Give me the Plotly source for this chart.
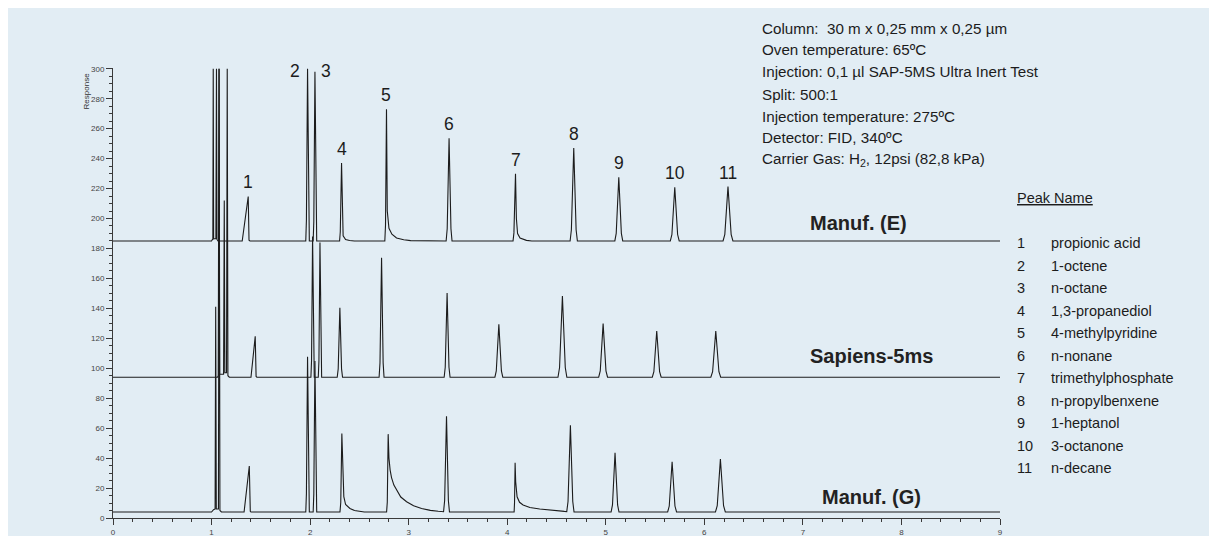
import plotly.graph_objects as go

# chromatogram polylines (x = time, y = response)
E_TIME = [0, 1.000, 1.008, 1.013, 1.017, 1.021, 1.044, 1.050, 1.055, 1.065,
          1.311, 1.372, 1.380, 1.390,
          1.956, 1.9625, 1.974, 1.9855, 1.992,
          2.031, 2.0375, 2.049, 2.0605, 2.067,
          2.299, 2.306, 2.319, 2.327, 2.335, 2.36, 2.40, 2.45,
          2.758, 2.765, 2.775, 2.783, 2.792, 2.80, 2.83, 2.877, 2.95, 3.02,
          3.38, 3.391, 3.41, 3.429, 3.44,
          4.059, 4.068, 4.084, 4.093, 4.105, 4.13, 4.195, 4.25,
          4.638, 4.651, 4.675, 4.699, 4.712,
          5.092, 5.106, 5.132, 5.158, 5.172,
          5.655, 5.671, 5.70, 5.729, 5.745,
          6.19, 6.208, 6.24, 6.272, 6.29,
          9]
E_RESP = [185, 185, 186, 186, 300, 186.5, 186.5, 300, 186, 185,
          185, 214.7, 185.5, 185,
          185, 199, 300, 199, 185,
          185, 198, 298, 198, 185,
          185, 191, 237, 195, 188.5, 186, 185.3, 185,
          185, 195.5, 273, 205, 197, 193.5, 189.5, 187, 185.8, 185.2,
          185, 193.2, 253.6, 193.2, 185,
          185, 190.4, 229.8, 200, 190, 187, 185.4, 185,
          185, 192.5, 247.1, 192.5, 185,
          185, 190.1, 227.6, 190.1, 185,
          185, 189.3, 220.9, 189.3, 185,
          185, 189.4, 221.3, 189.4, 185,
          185]

S_TIME = [0, 1.060, 1.068, 1.075, 1.082, 1.122, 1.129, 1.135, 1.152, 1.159, 1.166, 1.18,
          1.40, 1.443, 1.452, 1.46,
          2.008, 2.0145, 2.025, 2.0355, 2.042,
          2.083, 2.0895, 2.10, 2.1105, 2.117,
          2.275, 2.285, 2.302, 2.319, 2.329,
          2.70, 2.709, 2.725, 2.741, 2.75,
          3.36, 3.371, 3.39, 3.409, 3.42,
          3.875, 3.889, 3.915, 3.941, 3.955,
          4.515, 4.531, 4.56, 4.589, 4.605,
          4.928, 4.944, 4.973, 5.002, 5.018,
          5.472, 5.488, 5.517, 5.546, 5.562,
          6.066, 6.084, 6.116, 6.148, 6.166,
          9]
S_RESP = [94, 94, 95, 300, 96, 96, 212, 97, 97, 300, 95, 94,
          94, 121.3, 94.5, 94,
          94, 105, 188, 105, 94,
          94, 105, 184, 105, 94,
          94, 99.6, 140.4, 99.6, 94,
          94, 103.6, 173.8, 103.6, 94,
          94, 100.7, 150.2, 100.7, 94,
          94, 98.2, 129.3, 98.2, 94,
          94, 100.5, 148.2, 100.5, 94,
          94, 98.3, 129.8, 98.3, 94,
          94, 97.7, 124.9, 97.7, 94,
          94, 97.7, 124.9, 97.7, 94,
          94]

G_TIME = [0, 1.00, 1.02, 1.036, 1.042, 1.048, 1.070, 1.077, 1.085, 1.10,
          1.33, 1.383, 1.393, 1.40,
          1.956, 1.9625, 1.974, 1.9855, 1.992,
          2.031, 2.0375, 2.049, 2.0605, 2.067,
          2.303, 2.311, 2.322, 2.33, 2.342, 2.36, 2.404, 2.45, 2.505, 2.55,
          2.776, 2.783, 2.792, 2.80, 2.812, 2.826, 2.85, 2.877, 2.92, 2.979,
          3.05, 3.131, 3.22, 3.30,
          3.354, 3.365, 3.384, 3.403, 3.414,
          4.07, 4.074, 4.08, 4.086, 4.10, 4.125, 4.161, 4.23, 4.33, 4.45, 4.58,
          4.604, 4.617, 4.641, 4.665, 4.678,
          5.054, 5.068, 5.094, 5.12, 5.134,
          5.628, 5.644, 5.673, 5.702, 5.718,
          6.113, 6.131, 6.163, 6.195, 6.213,
          9]
G_RESP = [4, 4, 5.5, 6, 141, 6, 6, 300, 5, 4,
          4, 34.7, 4.5, 4,
          4, 16.4, 107.6, 16.4, 4,
          4, 16.1, 104.9, 16.1, 4,
          4, 10.3, 56.4, 30, 14.2, 9, 6.4, 5, 4.4, 4,
          4, 10.5, 56, 40, 32, 27, 22, 18.7, 14, 10.9,
          8.2, 6.4, 5.1, 4.5,
          4.2, 11.7, 68, 11.7, 4,
          4, 10, 36.9, 24, 14.2, 10.5, 8.7, 7, 6, 5, 4.4,
          4.3, 11, 62, 11, 4,
          4, 8.7, 43.6, 8.7, 4,
          4, 8, 37.6, 8, 4,
          4, 8.2, 39.3, 8.2, 4,
          4]

# peak numbers, placed over the Manuf. (E) peaks
PEAK_RT = [1.372, 1.974, 2.049, 2.319, 2.775, 3.41, 4.084, 4.675, 5.132, 5.70, 6.24]
PEAK_TOP = [214.7, 300, 298, 237, 273, 253.6, 229.8, 247.1, 227.6, 220.9, 221.3]
PEAK_NAMES = ["propionic acid", "1-octene", "n-octane", "1,3-propanediol",
              "4-methylpyridine", "n-nonane", "trimethylphosphate",
              "n-propylbenxene", "1-heptanol", "3-octanone", "n-decane"]

CONDITIONS = [
    "Column:  30 m x 0,25 mm x 0,25 µm",
    "Oven temperature: 65ºC",
    "Injection: 0,1 µl SAP-5MS Ultra Inert Test",
    "Split: 500:1",
    "Injection temperature: 275ºC",
    "Detector: FID, 340ºC",
    "Carrier Gas: H<sub>2</sub>, 12psi (82,8 kPa)",
]

TRACE_NAMES = ["Manuf. (E)", "Sapiens-5ms", "Manuf. (G)"]

BG = "#E2EDF4"
INK = "#1c1c1c"
AXIS = "#3a3a3a"
FONT = "Liberation Sans, Arial, sans-serif"
NARROW = "Liberation Sans Narrow, Arial Narrow, Liberation Sans, Arial, sans-serif"

fig = go.Figure()
for xs, ys, name in [(E_TIME, E_RESP, TRACE_NAMES[0]),
                     (S_TIME, S_RESP, TRACE_NAMES[1]),
                     (G_TIME, G_RESP, TRACE_NAMES[2])]:
    fig.add_trace(go.Scatter(x=xs, y=ys, mode="lines", name=name,
                             line=dict(color=INK, width=1.1)))

# peak number labels
for i, (rt, top) in enumerate(zip(PEAK_RT, PEAK_TOP)):
    xshift, yshift = 0, 14
    if i == 1:
        xshift, yshift = -13, -2
    elif i == 2:
        xshift, yshift = 11, 1
    fig.add_annotation(x=rt, y=top, text=str(i + 1), showarrow=False,
                       xanchor="center", yanchor="middle",
                       xshift=xshift, yshift=yshift,
                       font=dict(family=NARROW, size=17.5, color=INK))

# trace names
name_pos = [(7.049, 197.3), (7.049, 108), (7.17, 14.2)]
for name, (x, y) in zip(TRACE_NAMES, name_pos):
    fig.add_annotation(x=x, y=y, text=f"<b>{name}</b>", showarrow=False,
                       xanchor="left", yanchor="middle",
                       font=dict(family=FONT, size=20, color="#222"))

# run conditions block
cond_y = [1.0882, 1.04, 0.9918, 0.9422, 0.8933, 0.8451, 0.7971]
for text, y in zip(CONDITIONS, cond_y):
    fig.add_annotation(xref="paper", yref="paper", x=0.729, y=y, text=text,
                       showarrow=False, xanchor="left", yanchor="middle",
                       font=dict(family=FONT, size=15.2, color=INK))

# peak name table
fig.add_annotation(xref="paper", yref="paper", x=1.017, y=0.7104,
                   text="<u>Peak Name</u>", showarrow=False,
                   xanchor="left", yanchor="middle",
                   font=dict(family=FONT, size=14.5, color=INK))
row_y = [0.6104, 0.56, 0.5104, 0.46, 0.4104, 0.3607, 0.3104, 0.2607, 0.2104, 0.1607, 0.1118]
for i, (name, y) in enumerate(zip(PEAK_NAMES, row_y)):
    fig.add_annotation(xref="paper", yref="paper", x=1.017, y=y, text=str(i + 1),
                       showarrow=False, xanchor="left", yanchor="middle",
                       font=dict(family=FONT, size=14.5, color=INK))
    fig.add_annotation(xref="paper", yref="paper", x=1.0555, y=y, text=name,
                       showarrow=False, xanchor="left", yanchor="middle",
                       font=dict(family=FONT, size=14.5, color=INK))

# axis title sits near the top of the y axis
fig.add_annotation(xref="paper", yref="paper", x=-0.0304, y=0.948,
                   text="Response", textangle=-90, showarrow=False,
                   xanchor="center", yanchor="middle",
                   font=dict(family=FONT, size=8, color="#333"))

# the page body adds an 8px margin; the figure runs past the window edge
# on the right and bottom so the blue panel reaches both edges
fig.update_layout(
    width=1230,
    height=546,
    margin=dict(l=105, r=238, t=60, b=36),
    paper_bgcolor=BG,
    plot_bgcolor=BG,
    showlegend=False,
    font=dict(family=FONT, color=INK),
    xaxis=dict(
        range=[0, 9],
        dtick=1,
        ticks="outside",
        ticklen=6,
        tickcolor=AXIS,
        showline=True,
        linecolor=AXIS,
        linewidth=1,
        showgrid=False,
        zeroline=False,
        automargin=False,
        tickfont=dict(size=8, color="#444"),
        minor=dict(dtick=0.2, ticks="outside", ticklen=3, tickcolor=AXIS),
    ),
    yaxis=dict(
        range=[0, 300.5],
        tickvals=list(range(0, 301, 20)),
        ticks="outside",
        ticklen=6,
        tickcolor=AXIS,
        showline=True,
        linecolor=AXIS,
        linewidth=1,
        showgrid=False,
        zeroline=False,
        automargin=False,
        tickfont=dict(size=8, color="#444"),
        minor=dict(dtick=5, ticks="outside", ticklen=3, tickcolor=AXIS),
    ),
)

# hide scrollbars so the overflowing figure is not cut by a gutter
fig.write_html("out.html",
               post_script="document.documentElement.style.overflow='hidden';"
                           "document.body.style.overflow='hidden';")
